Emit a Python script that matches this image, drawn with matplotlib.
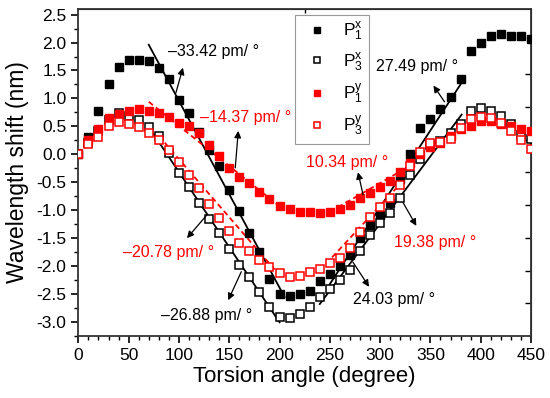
import numpy as np
import matplotlib
matplotlib.use("Agg")
import matplotlib.pyplot as plt

plt.rcParams['font.family'] = ['Liberation Sans', 'DejaVu Sans']
plt.rcParams['mathtext.default'] = 'regular'

# torsion angle (degree)
angle = np.arange(0, 451, 10)

# wavelength shift (nm)
p1x = [0.0, 0.31, 0.78, 1.25, 1.57, 1.69, 1.68, 1.67, 1.55, 1.34,
       0.98, 0.74, 0.40, 0.07, -0.20, -0.64, -1.02, -1.41, -1.75, -2.23,
       -2.50, -2.54, -2.49, -2.44, -2.27, -2.14, -2.00, -1.80, -1.50, -1.27,
       -1.08, -0.87, -0.45, 0.0, 0.47, 0.63, 0.81, 1.03, 1.35, 1.84,
       2.00, 2.12, 2.16, 2.11, 2.12, 2.07]
p3x = [0.0, 0.20, 0.42, 0.62, 0.74, 0.68, 0.62, 0.48, 0.32, 0.03,
       -0.33, -0.59, -0.87, -1.16, -1.41, -1.70, -1.98, -2.19, -2.46, -2.73,
       -2.91, -2.92, -2.86, -2.73, -2.55, -2.41, -2.25, -2.07, -1.73, -1.44,
       -1.23, -1.05, -0.78, -0.37, -0.08, 0.17, 0.24, 0.38, 0.55, 0.77,
       0.82, 0.78, 0.69, 0.55, 0.35, 0.28]
p1y = [0.0, 0.25, 0.45, 0.65, 0.72, 0.78, 0.81, 0.78, 0.74, 0.67,
       0.56, 0.50, 0.38, 0.17, -0.03, -0.24, -0.40, -0.51, -0.67, -0.80,
       -0.92, -0.98, -1.03, -1.03, -1.05, -1.03, -0.98, -0.90, -0.78, -0.69,
       -0.58, -0.48, -0.31, -0.15, 0.0, 0.13, 0.20, 0.33, 0.45, 0.50,
       0.60, 0.60, 0.55, 0.50, 0.45, 0.42]
p3y = [0.0, 0.19, 0.31, 0.50, 0.57, 0.55, 0.49, 0.38, 0.25, 0.07,
       -0.14, -0.37, -0.61, -0.88, -1.14, -1.38, -1.59, -1.73, -1.89, -2.02,
       -2.13, -2.20, -2.18, -2.10, -2.05, -1.94, -1.86, -1.68, -1.39, -1.12,
       -0.94, -0.79, -0.55, -0.20, 0.05, 0.20, 0.22, 0.28, 0.47, 0.63,
       0.67, 0.65, 0.56, 0.42, 0.26, 0.10]

# linear fits: slope (nm/degree), anchor point, x range, colour, style
fit_slope = [-0.03342, -0.02688, -0.01437, -0.02078, 0.02749, 0.02403, 0.01034, 0.01938]
fit_x0 = [70, 70, 70, 80, 381, 381, 250, 240]
fit_y0 = [1.96, 0.49, 0.94, 0.33, 1.28, 0.71, -1.03, -2.08]
fit_start = [70, 70, 70, 80, 250, 240, 250, 240]
fit_end = [205, 200, 200, 200, 381, 381, 330, 330]
fit_color = ['black', 'black', 'red', 'red', 'black', 'black', 'red', 'red']
fit_ls = ['-', '-', (0, (3, 2)), (0, (3, 2)), '-', '-', (0, (3, 2)), (0, (3, 2))]

# annotations: label, text position, arrow tail -> head
ann_text = ['\u201333.42 pm/ \u00b0', '\u201314.37 pm/ \u00b0', '\u201320.78 pm/ \u00b0',
            '\u201326.88 pm/ \u00b0', '27.49 pm/ \u00b0', '10.34 pm/ \u00b0',
            '19.38 pm/ \u00b0', '24.03 pm/ \u00b0']
ann_color = ['black', 'red', 'red', 'black', 'black', 'red', 'red', 'black']
ann_pos = [(89, 1.84), (121, 0.65), (44, -1.75), (82, -2.89),
           (296, 1.57), (226, -0.15), (314, -1.57), (273, -2.59)]
arrow_tail = [(97, 1.10), (156, -0.24), (128, -1.08), (162, -2.10),
              (364, 0.94), (283, -0.72), (323, -0.87), (273, -1.93)]
arrow_head = [(104, 1.55), (159, 0.42), (108, -1.50), (149, -2.61),
              (353, 1.23), (278, -0.32), (336, -1.28), (289, -2.37)]

fig = plt.figure(figsize=(5.5, 3.98), dpi=100)
ax = fig.add_axes([0.1424, 0.1558, 0.8231, 0.8216])

for i in range(len(fit_slope)):
    xs = np.array([fit_start[i], fit_end[i]])
    ys = fit_y0[i] + fit_slope[i] * (xs - fit_x0[i])
    ax.plot(xs, ys, color=fit_color[i], ls=fit_ls[i], lw=1.3, zorder=2)

ms = 5.8
ax.plot(angle, p1x, 's', color='black', ms=ms, label='P$_1^x$', zorder=3)
ax.plot(angle, p3x, 's', mfc='white', mec='black', mew=1.1, ms=ms, label='P$_3^x$', zorder=3)
ax.plot(angle, p1y, 's', color='red', ms=ms, label='P$_1^y$', zorder=3)
ax.plot(angle, p3y, 's', mfc='white', mec='red', mew=1.1, ms=ms, label='P$_3^y$', zorder=3)

for i in range(len(ann_text)):
    ax.text(ann_pos[i][0], ann_pos[i][1], ann_text[i], color=ann_color[i],
            fontsize=11.5, va='center', ha='left', zorder=5)
    ax.annotate('', xy=arrow_head[i], xytext=arrow_tail[i],
                arrowprops=dict(arrowstyle='-|>', color='black', lw=0.9,
                                mutation_scale=10, shrinkA=0, shrinkB=0), zorder=5)

ax.set_xlim(0, 450)
ax.set_ylim(-3.25, 2.6)
ax.set_xticks(np.arange(0, 451, 50))
ax.set_xticks(np.arange(0, 451, 10), minor=True)
ax.set_yticks(np.arange(-3.0, 2.51, 0.5))
ax.set_yticks(np.arange(-3.25, 2.6, 0.25), minor=True)
ax.set_yticklabels(['%.1f' % v for v in np.arange(-3.0, 2.51, 0.5)])
ax.tick_params(which='major', direction='out', length=5, width=1.2, labelsize=12.5)
ax.tick_params(which='minor', direction='out', length=3, width=1.0)
for s in ax.spines.values():
    s.set_linewidth(1.3)
    s.set_color('#333333')

# extra ticks on the right and top frame
sec_y = ax.secondary_yaxis('right', functions=(lambda y: (y + 3.25) / 5.85 * 10,
                                               lambda v: v / 10 * 5.85 - 3.25))
sec_y.set_yticks(np.arange(1, 9))
sec_y.tick_params(direction='in', length=4, width=1.0, labelright=False)
sec_x = ax.secondary_xaxis('top')
sec_x.set_xticks([225])
sec_x.tick_params(direction='in', length=3, width=1.0, labeltop=False)

ax.set_xlabel('Torsion angle (degree)', fontsize=16, labelpad=2)
ax.set_ylabel('Wavelength shift (nm)', fontsize=16.5, labelpad=5)

leg = ax.legend(loc='upper left', bbox_to_anchor=(0.479, 0.982), fontsize=12.5,
                fancybox=False, edgecolor='#999999', framealpha=1,
                handlelength=1.8, handletextpad=0.6, labelspacing=0.45,
                borderpad=0.35, borderaxespad=0, markerscale=0.8)
leg.get_frame().set_linewidth(0.8)

fig.savefig('out.png', dpi=100)
